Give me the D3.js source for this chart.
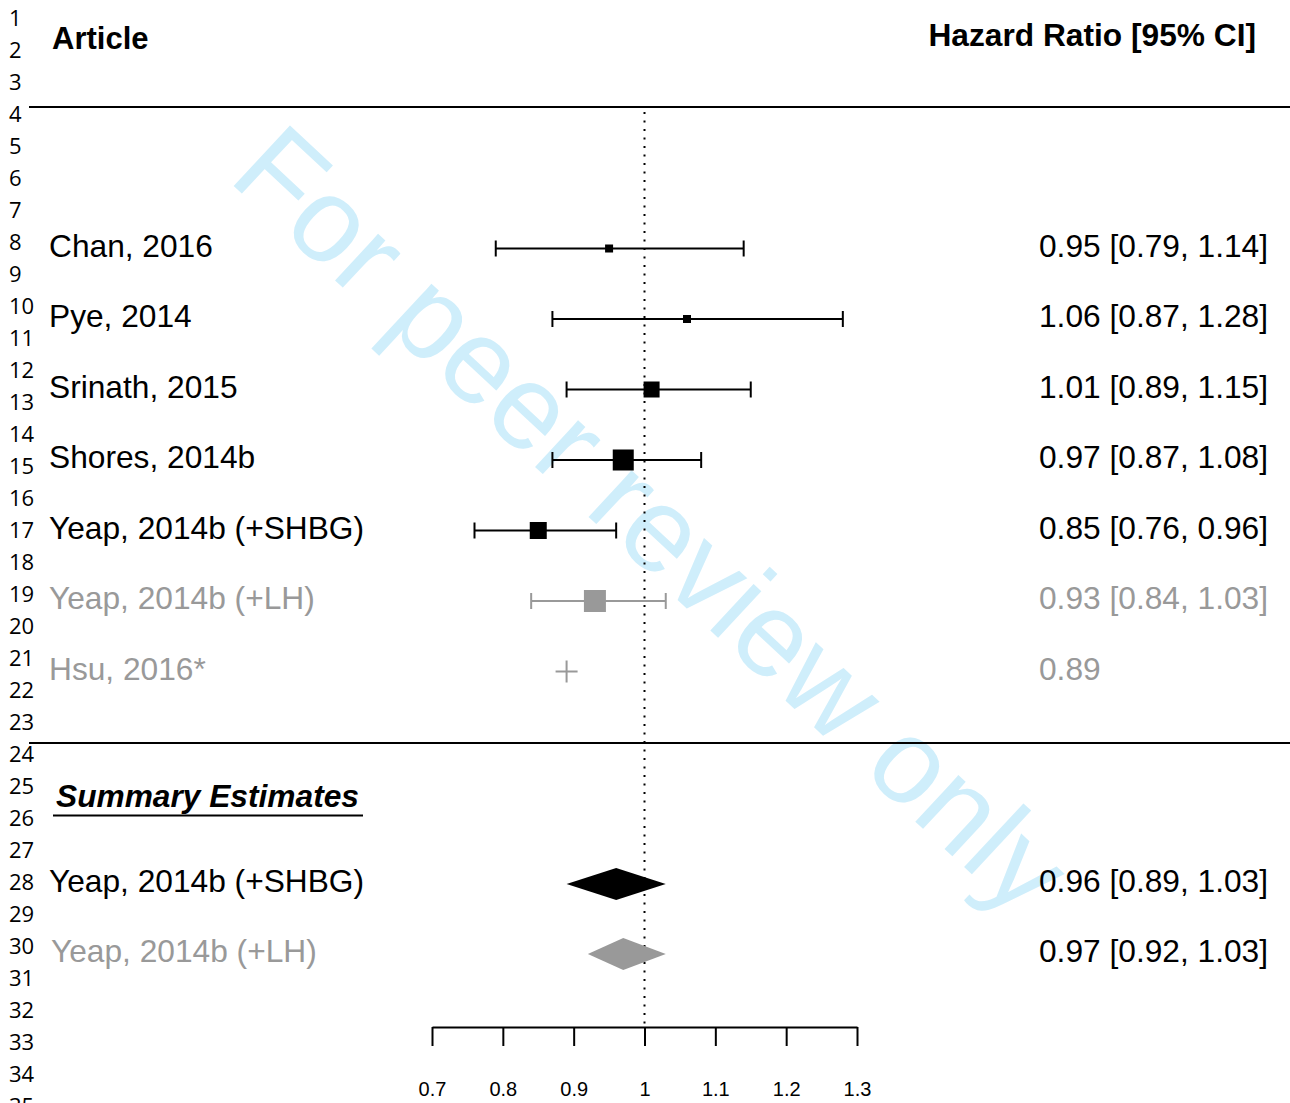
<!DOCTYPE html>
<html><head><meta charset="utf-8">
<script src="https://cdn.jsdelivr.net/npm/d3@7"></script>
<style>body{margin:0;background:#fff}svg{display:block}</style>
</head><body>
<svg id="c" width="1290" height="1103"></svg>
<script>
const studies = ["Chan, 2016","Pye, 2014","Srinath, 2015","Shores, 2014b","Yeap, 2014b (+SHBG)","Yeap, 2014b (+LH)","Hsu, 2016*"];
const hr = [0.95,1.06,1.01,0.97,0.85,0.93,0.89];
const lower = [0.79,0.87,0.89,0.87,0.76,0.84,null];
const upper = [1.14,1.28,1.15,1.08,0.96,1.03,null];
const weight = [8,8,16,21,17,22,0];
const grey = [false,false,false,false,false,true,true];
const summaryNames = ["Yeap, 2014b (+SHBG)","Yeap, 2014b (+LH)"];
const summaryEst = [0.96,0.97];
const summaryLo = [0.89,0.92];
const summaryHi = [1.03,1.03];
const summaryGrey = [false,true];
const ticks = [0.7,0.8,0.9,1.0,1.1,1.2,1.3];
const tickLabels = ["0.7","0.8","0.9","1","1.1","1.2","1.3"];
const lineNumbers = d3.range(1,36);

const svg = d3.select("#c");
const GREY = "#999999";
const FS = 31.7;
const x = d3.scaleLinear().domain([0.7,1.3]).range([432,857]);
const rowY = d3.scaleLinear().domain([0,1]).range([248.5,319]);
const sumY = d3.scaleLinear().domain([0,1]).range([884,954]);
const lineY = d3.scaleLinear().domain([1,2]).range([26,58]);
const sans = "'Liberation Sans', Arial, sans-serif";

// watermark
svg.append("text").attr("transform","translate(624,550) rotate(43)")
  .attr("text-anchor","middle").attr("font-family",sans).attr("font-size",120)
  .attr("fill","#cfeefb").text("For peer review only");

// line numbers
svg.append("g").selectAll("text").data(lineNumbers).join("text")
  .attr("x",9).attr("y",d=>lineY(d)).attr("font-family","'Open Sans', sans-serif")
  .attr("font-size",22).attr("fill","#000").text(d=>d);

// headers
svg.append("text").attr("x",52).attr("y",49).attr("font-family",sans).attr("font-weight","bold")
  .attr("font-size",31).text("Article");
svg.append("text").attr("x",1256).attr("y",46).attr("text-anchor","end").attr("font-family",sans)
  .attr("font-weight","bold").attr("font-size",FS).text("Hazard Ratio [95% CI]");

// separator lines
[107,743].forEach(yy=>svg.append("line").attr("x1",29).attr("x2",1290).attr("y1",yy).attr("y2",yy)
  .attr("stroke","#000").attr("stroke-width",2));

// reference line
svg.append("line").attr("x1",x(1)).attr("x2",x(1)).attr("y1",112).attr("y2",1027)
  .attr("stroke","#000").attr("stroke-width",2).attr("stroke-dasharray","2,6.5");

// study rows
const g = svg.append("g");
studies.forEach((s,i)=>{
  const y = rowY(i), col = grey[i]?GREY:"#000";
  g.append("text").attr("x",49).attr("y",y+8).attr("font-family",sans).attr("font-size",FS)
    .attr("fill",col).text(s);
  const rt = lower[i]==null ? hr[i].toFixed(2) : `${hr[i].toFixed(2)} [${lower[i].toFixed(2)}, ${upper[i].toFixed(2)}]`;
  g.append("text").attr("x",1039).attr("y",y+8).attr("font-family",sans).attr("font-size",FS)
    .attr("fill",col).text(rt);
  if (lower[i]!=null){
    g.append("line").attr("x1",x(lower[i])).attr("x2",x(upper[i])).attr("y1",y).attr("y2",y)
      .attr("stroke",col).attr("stroke-width",2);
    [lower[i],upper[i]].forEach(v=>g.append("line").attr("x1",x(v)).attr("x2",x(v))
      .attr("y1",y-8).attr("y2",y+8).attr("stroke",col).attr("stroke-width",2));
    const w = weight[i];
    g.append("rect").attr("x",x(hr[i])-w/2).attr("y",y-w/2).attr("width",w).attr("height",w).attr("fill",col);
  } else {
    g.append("path").attr("d",`M${x(hr[i])-11},${y}H${x(hr[i])+11}M${x(hr[i])},${y-11}V${y+11}`)
      .attr("stroke",col).attr("stroke-width",2).attr("fill","none");
  }
});

// summary heading
svg.append("text").attr("x",56).attr("y",807).attr("font-family",sans).attr("font-weight","bold")
  .attr("font-style","italic").attr("font-size",FS).text("Summary Estimates");
svg.append("line").attr("x1",53).attr("x2",363).attr("y1",815.5).attr("y2",815.5).attr("stroke","#000").attr("stroke-width",1.8);

// summary rows
summaryNames.forEach((s,i)=>{
  const y = sumY(i), col = summaryGrey[i]?GREY:"#000";
  svg.append("text").attr("x",49 + (summaryGrey[i]?2:0)).attr("y",y+8).attr("font-family",sans).attr("font-size",FS)
    .attr("fill",col).text(s);
  svg.append("text").attr("x",1039).attr("y",y+8).attr("font-family",sans).attr("font-size",FS)
    .attr("fill","#000").text(`${summaryEst[i].toFixed(2)} [${summaryLo[i].toFixed(2)}, ${summaryHi[i].toFixed(2)}]`);
  svg.append("path").attr("d",`M${x(summaryLo[i])},${y}L${x(summaryEst[i])},${y-16}L${x(summaryHi[i])},${y}L${x(summaryEst[i])},${y+16}Z`)
    .attr("fill",col);
});

// axis
const axis = d3.axisBottom(x).tickValues(ticks).tickFormat((d,i)=>tickLabels[i]).tickSize(19).tickSizeOuter(0).tickPadding(36);
const ag = svg.append("g").attr("transform","translate(0,1027)").call(axis);
ag.selectAll("path,line").attr("stroke","#000").attr("stroke-width",2);
ag.selectAll("text").attr("font-family",sans).attr("font-size",20).attr("fill","#000");
</script>
</body></html>
